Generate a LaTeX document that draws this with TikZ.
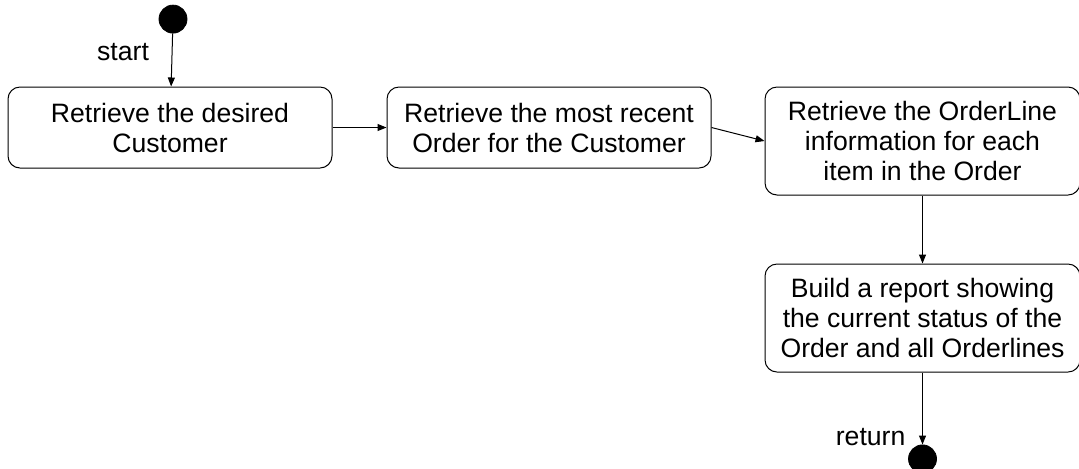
\documentclass[tikz,border=0pt]{standalone}
\usepackage{fontspec}
\setmainfont{Liberation Sans}
\usetikzlibrary{positioning, arrows.meta, shapes}
\tikzstyle{Arrow} = [
line width=0.5pt,
-{Triangle[length=4.5pt, width=3.5pt]}]
\tikzstyle{Action} = [draw, line width=0.5pt, rounded corners=6pt,
align=center, minimum width=162pt, minimum height=40.5pt, inner sep=2pt,
font=\fontsize{13.3pt}{15pt}\selectfont]
\tikzstyle{Dot} = [circle, fill=black, draw, minimum size=14pt, inner sep=0pt]
\tikzstyle{Label} = [font=\fontsize{13.3pt}{15pt}\selectfont]

\begin{document}
\begin{tikzpicture}
    \useasboundingbox (0,0) rectangle (539.5pt,-234pt);
    \node (1) [Action] at (85pt,-63.75pt) {Retrieve the desired\\Customer};
    \node [Action, right =27pt of 1.north east, anchor=north west] (2) {Retrieve the most recent\\Order for the Customer};
    \node [Action, right =26.5pt of 2.north east, anchor=north west, minimum width=157.5pt, minimum height=54pt] (3) {Retrieve the OrderLine\\information for each\\item in the Order};
    \node [Action, below =34pt of 3, minimum width=157.5pt, minimum height=54pt] (4) {Build a report showing\\the current status of the\\Order and all Orderlines};
    \node [Dot, above =26.5pt of 1, xshift=1.5pt] (5) {};
    \node [Dot, below =36pt of 4] (6) {};
    \draw[Arrow] (5) to node[Label, pos=0.35, left=8pt] {start} (1);
    \draw[Arrow] (1) to (2);
    \draw[Arrow] (2.east) to (3.west);
    \draw[Arrow] (3) to (4);
    \draw[Arrow] (4) to node[Label, pos=0.9, left=5pt] {return} (6);
\end{tikzpicture}
\end{document}
